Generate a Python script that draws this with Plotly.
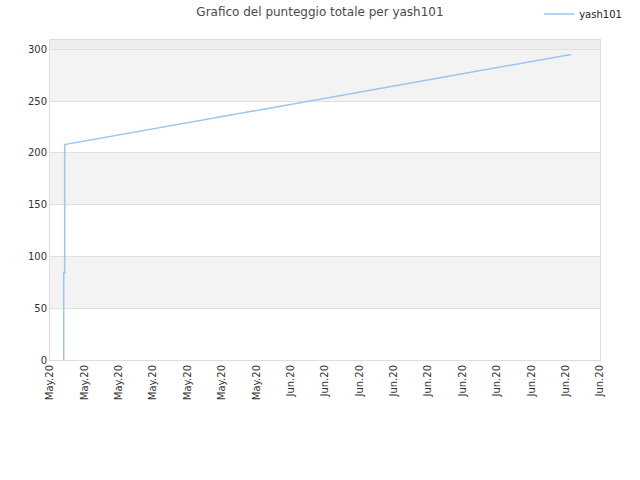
import pandas as pd
import plotly.graph_objects as go

# score history of the player (timestamps)
timestamps = ['2020-05-19 19:08', '2020-05-19 19:08', '2020-05-19 20:31', '2020-05-19 20:31',
              '2020-05-19 20:31', '2020-06-18 07:30']
scores = [0, 84, 84, 168, 208, 295]
player = 'yash101'

band_edges = [0, 50, 100, 150, 200, 250, 300, 350]
band_colors = ['#ffffff', '#f3f3f3', '#ffffff', '#f3f3f3', '#ffffff', '#f3f3f3', '#eeeeee']

x_start = '2020-05-19'
x_end = '2020-06-20'

df = pd.DataFrame({'timestamp': pd.to_datetime(timestamps), 'score': scores})

fig = go.Figure()
fig.add_trace(go.Scatter(x=df['timestamp'], y=df['score'], mode='lines', name=player,
                         line=dict(color='#99c5f2', width=1.5)))

# alternating background bands
for i in range(len(band_colors)):
    fig.add_shape(type='rect', xref='paper', yref='y', x0=0, x1=1,
                  y0=band_edges[i], y1=band_edges[i + 1],
                  fillcolor=band_colors[i], line_width=0, layer='below')

fig.update_layout(
    width=640, height=480,
    margin=dict(l=50, r=40, t=40, b=120, autoexpand=False),
    paper_bgcolor='white', plot_bgcolor='white',
    font=dict(family='DejaVu Sans', size=10, color='#333333'),
    title=dict(text=f'Grafico del punteggio totale per {player}', x=0.5, xanchor='center',
               y=1 - 12 / 480, yanchor='middle', yref='container',
               font=dict(size=12, color='#4a4a4a')),
    showlegend=True,
    legend=dict(x=0.98, y=1 - 14 / 480, xanchor='right', yanchor='middle', yref='container',
                xref='container', itemwidth=30,
                font=dict(size=10, color='#222222'), bgcolor='rgba(0,0,0,0)'),
)
fig.update_xaxes(type='date', range=[x_start, x_end], tick0=x_start, dtick=2 * 86400000,
                 tickformat='%b.%y', tickangle=-90, showgrid=False, zeroline=False,
                 showline=True, linecolor='#dddddd', mirror=True, ticks='',
                 automargin=False, tickfont=dict(size=10, color='#333333'))
fig.update_yaxes(range=[0, 309], dtick=50, showgrid=True, gridcolor='#e0e0e0',
                 zeroline=False, showline=True, linecolor='#dddddd', mirror=True,
                 ticks='', automargin=False, tickfont=dict(size=10, color='#333333'))

# drop the page's default body margin so the figure sits at the window corner
fig.write_html('out.html', config={'displayModeBar': False},
               post_script="document.body.style.margin='0';")
